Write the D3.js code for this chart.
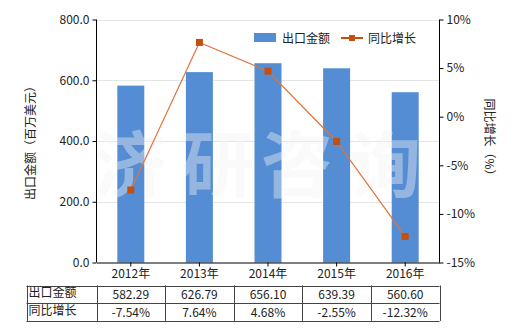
<!DOCTYPE html>
<html>
<head>
<meta charset="utf-8">
<script src="https://cdn.jsdelivr.net/npm/d3@7"></script>
<style>
  body { margin: 0; background: #fff; }
  text { font-family: "Noto Sans CJK SC", "Noto Sans", sans-serif; fill: #222; }
</style>
</head>
<body>
<div id="chart"></div>
<script>
const years = ["2012年", "2013年", "2014年", "2015年", "2016年"];
const exportValues = [582.29, 626.79, 656.10, 639.39, 560.60];
const growthValues = [-7.54, 7.64, 4.68, -2.55, -12.32];
const exportLabels = ["582.29", "626.79", "656.10", "639.39", "560.60"];
const growthLabels = ["-7.54%", "7.64%", "4.68%", "-2.55%", "-12.32%"];
const leftTicks = [0, 200, 400, 600, 800];
const rightTicks = [-15, -10, -5, 0, 5, 10];
const watermarkChars = ["济", "研", "咨", "询"];

const width = 520, height = 330;
const plotLeft = 96.5, plotRight = 439.5, plotTop = 19.5, plotBottom = 262.5;

const svg = d3.select("#chart").append("svg")
  .attr("width", width)
  .attr("height", height);

const xc = d3.scaleBand().domain(years).range([plotLeft, plotRight]);
const y = d3.scaleLinear().domain([0, 800]).range([plotBottom, plotTop]);
const y2 = d3.scaleLinear().domain([-15, 10]).range([plotBottom, plotTop]);

// gridlines
svg.append("g")
  .selectAll("line")
  .data(leftTicks.filter(d => d > 0))
  .enter().append("line")
  .attr("x1", plotLeft).attr("x2", plotRight)
  .attr("y1", d => Math.round(y(d)) + 0.5).attr("y2", d => Math.round(y(d)) + 0.5)
  .attr("stroke", "#e3e6e6");

// bars
svg.append("g")
  .selectAll("rect")
  .data(exportValues)
  .enter().append("rect")
  .attr("x", (d, i) => xc(years[i]) + xc.bandwidth() / 2 - 13.5)
  .attr("width", 27)
  .attr("y", d => y(d))
  .attr("height", d => plotBottom - y(d))
  .attr("fill", "#548dd4");

// watermark
const wmX = [130, 218, 297, 385];
svg.append("g")
  .selectAll("text")
  .data(watermarkChars)
  .enter().append("text")
  .attr("x", (d, i) => wmX[i])
  .attr("y", 191)
  .attr("text-anchor", "middle")
  .attr("font-size", 72)
  .attr("font-weight", "bold")
  .style("fill", "#f4f4f4")
  .style("opacity", 0.4)
  .text(d => d);

// axes
const leftAxis = svg.append("g")
  .attr("transform", `translate(${plotLeft},0)`)
  .call(d3.axisLeft(y).tickValues(leftTicks).tickFormat(d3.format(".1f")).tickSize(4).tickPadding(3));
const rightAxis = svg.append("g")
  .attr("transform", `translate(${plotRight},0)`)
  .call(d3.axisRight(y2).tickValues(rightTicks).tickFormat(d => d + "%").tickSize(4).tickPadding(3));
const bottomAxis = svg.append("g")
  .attr("transform", `translate(0,${plotBottom})`)
  .call(d3.axisBottom(xc).tickSize(4).tickPadding(3).tickSizeOuter(0));

[leftAxis, rightAxis, bottomAxis].forEach(a => {
  a.selectAll(".domain").attr("stroke", "#000");
  a.selectAll(".tick line").attr("stroke", "#000");
  a.selectAll("text").attr("font-size", 12).style("fill", "#222")
    .style("font-family", "'Noto Sans CJK SC', sans-serif");
});
leftAxis.select(".domain").attr("d", `M0,${plotTop}V${plotBottom}`);
rightAxis.select(".domain").attr("d", `M0,${plotTop}V${plotBottom}`);

// line
const line = d3.line()
  .x((d, i) => xc(years[i]) + xc.bandwidth() / 2)
  .y(d => y2(d));
svg.append("path")
  .datum(growthValues)
  .attr("fill", "none")
  .attr("stroke", "#e0743a")
  .attr("stroke-width", 1.2)
  .attr("d", line);
svg.append("g")
  .selectAll("rect")
  .data(growthValues)
  .enter().append("rect")
  .attr("x", (d, i) => xc(years[i]) + xc.bandwidth() / 2 - 3.5)
  .attr("y", d => y2(d) - 3.5)
  .attr("width", 7).attr("height", 7)
  .attr("fill", "#c4500f");

// axis titles
svg.append("text")
  .attr("transform", "translate(35,140) rotate(-90)")
  .attr("text-anchor", "middle")
  .attr("font-size", 12)
  .text("出口金额（百万美元）");
svg.append("text")
  .attr("transform", "translate(485,140) rotate(90)")
  .attr("text-anchor", "middle")
  .attr("font-size", 12)
  .text("同比增长（%）");

// legend
svg.append("rect").attr("x", 254).attr("y", 33).attr("width", 22).attr("height", 9).attr("fill", "#548dd4");
svg.append("text").attr("x", 282).attr("y", 42.5).attr("font-size", 12).text("出口金额");
svg.append("line").attr("x1", 341).attr("x2", 363).attr("y1", 38).attr("y2", 38)
  .attr("stroke", "#c4500f").attr("stroke-width", 2);
svg.append("rect").attr("x", 349).attr("y", 35).attr("width", 6).attr("height", 6).attr("fill", "#c4500f");
svg.append("text").attr("x", 368).attr("y", 42.5).attr("font-size", 12).text("同比增长");

// table
const tTop = 285.5, rowH = 17.7, tLeft = 26.5;
const rows = [["出口金额", exportLabels], ["同比增长", growthLabels]];
const table = svg.append("g");
const cols = [tLeft].concat(years.map(yr => xc(yr))).concat([plotRight]);
cols.forEach(cx => {
  table.append("line").attr("x1", Math.round(cx) + 0.5).attr("x2", Math.round(cx) + 0.5)
    .attr("y1", tTop).attr("y2", tTop + rowH * 2).attr("stroke", "#444");
});
[0, 1, 2].forEach(r => {
  table.append("line").attr("x1", tLeft).attr("x2", plotRight)
    .attr("y1", Math.round(tTop + r * rowH) + 0.5).attr("y2", Math.round(tTop + r * rowH) + 0.5)
    .attr("stroke", "#444");
});
rows.forEach((row, r) => {
  const cy = tTop + r * rowH + rowH / 2 + 4;
  table.append("text").attr("x", tLeft + 2).attr("y", cy - 1).attr("font-size", 12).text(row[0]);
  row[1].forEach((v, i) => {
    table.append("text")
      .attr("x", xc(years[i]) + xc.bandwidth() / 2)
      .attr("y", cy + 1)
      .attr("text-anchor", "middle")
      .attr("font-size", 12)
      .text(v);
  });
});
</script>
</body>
</html>
